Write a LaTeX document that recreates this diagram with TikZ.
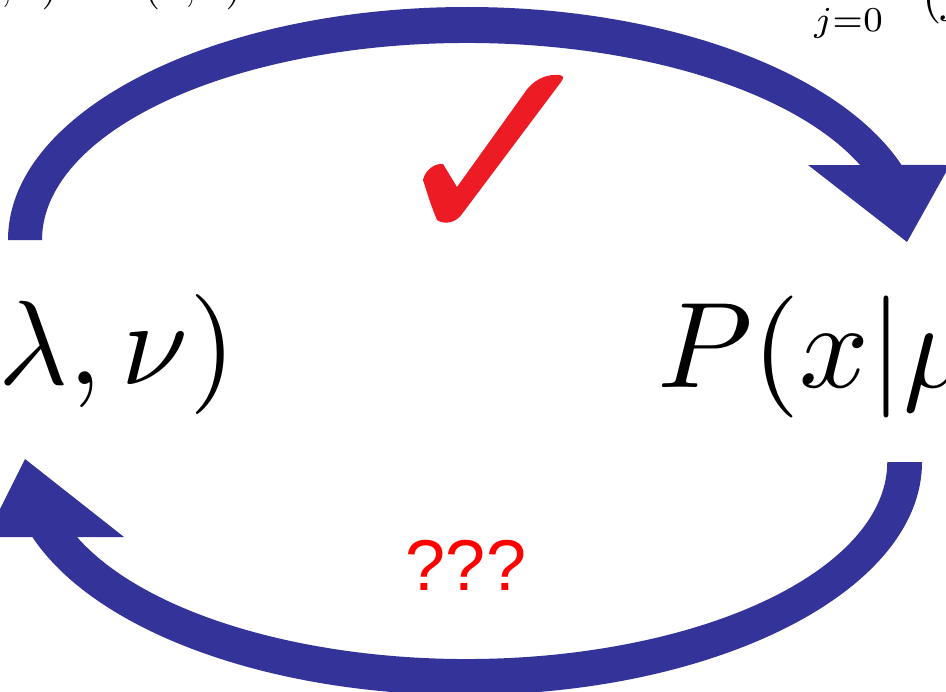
\documentclass[tikz,border=0pt]{standalone}
\usepackage{graphicx}
\usepackage{fontspec}
\newfontfamily\arialfont{Liberation Sans}
\definecolor{arrowblue}{RGB}{51,51,153}
\definecolor{tickred}{RGB}{237,28,36}

\begin{document}
\begin{tikzpicture}[x=0.75pt,y=0.75pt]
\useasboundingbox (0,0) rectangle (946,-692);
\clip (0,0) rectangle (946,-692);

\coordinate (TH1) at (808,-165);
\coordinate (TH2) at (950,-165);
\coordinate (TT) at (907,-242);
\coordinate (BH1) at (-14,-537);
\coordinate (BH2) at (124,-537);
\coordinate (BT) at (25,-459);

% upper curved arrow
\fill[arrowblue] (8,-240) arc[start angle=180,end angle=18.78,x radius=459,y radius=233]
  -- (TH2) -- (TT) -- (TH1) -- (860,-165)
  arc[start angle=22.38,end angle=180,x radius=425,y radius=197] -- cycle;

% lower curved arrow
\fill[arrowblue] (922,-462) arc[start angle=0,end angle=-161.22,x radius=457,y radius=233]
  -- (BH1) -- (BT) -- (BH2) -- (77,-537)
  arc[start angle=-157.62,end angle=0,x radius=421,y radius=197] -- cycle;

% tick
\fill[tickred] (423,-180) .. controls (425,-170) and (435,-163) .. (443,-164)
  -- (457,-187) -- (528,-88)
  .. controls (537,-78) and (548,-74) .. (560,-75)
  .. controls (564,-77) .. (561,-82)
  -- (462,-214) .. controls (456,-223) and (444,-225) .. (437,-220)
  .. controls (431,-205) .. (423,-180);

\node[anchor=base east,inner sep=0] (zdef) at (242,0) {\scalebox{3.1}{$\mu(\lambda,\nu) = Z(\lambda,\nu)$}};
\node[anchor=base west,inner sep=0] (musum) at (812,35) {\scalebox{3.75}{$\displaystyle\sum_{\rule{0pt}{6.1pt}j=0}^{\infty} j\lower2.4pt\hbox{$\displaystyle\frac{\lambda^j}{(j!)^{\nu}}$}$}};

\node[anchor=base east,inner sep=0] (lamnu) at (236,-384) {\scalebox{9}{$P(x|\lambda,\nu)$}};
\node[anchor=base west,inner sep=0] (munu) at (657,-387) {\scalebox{9.15}{$P(x|\mu,\nu)$}};

\node[anchor=base,inner sep=0,text=red,font=\arialfont\fontsize{54}{60}\selectfont] (ques) at (466,-590) {???};
\end{tikzpicture}
\end{document}
